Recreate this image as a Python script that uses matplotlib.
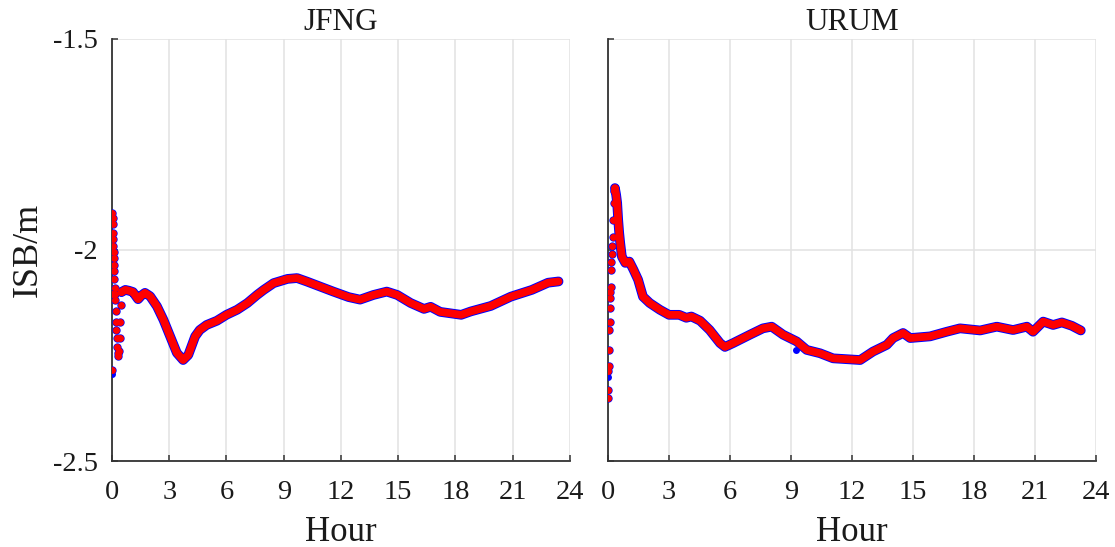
"""
ISB time series for JFNG and URUM (two panels, shared y range)
"""

import matplotlib
matplotlib.use('Agg')
import matplotlib.pyplot as plt

# --- data --------------------------------------------------------------

# JFNG: convergence dots in the first half hour
jfng_start_h = [0.00, 0.00, 0.02, 0.03, 0.05, 0.06, 0.07, 0.08, 0.09, 0.10,
                0.11, 0.12, 0.13, 0.14, 0.15, 0.17, 0.19, 0.21, 0.23, 0.25,
                0.28, 0.31, 0.34, 0.37, 0.40, 0.43, 0.46, 0.50]
jfng_start_v = [-2.285, -2.105, -1.912, -1.925, -1.940, -1.960, -1.975, -1.990,
                -2.005, -2.020, -2.035, -2.050, -2.070, -2.090, -2.105, -2.120,
                -2.145, -2.170, -2.190, -2.210, -2.230, -2.245, -2.252, -2.240,
                -2.210, -2.170, -2.130, -2.100]

# JFNG: converged part
jfng_hour = [0.50, 0.70, 0.90, 1.10, 1.37, 1.55, 1.73, 2.00, 2.36, 2.70,
             3.05, 3.40, 3.73, 4.00, 4.36, 4.60, 4.96, 5.50, 6.00, 6.56,
             7.10, 7.60, 7.95, 8.47, 9.20, 9.70, 10.20, 10.90, 11.60, 12.40,
             13.00, 13.70, 14.40, 14.95, 15.65, 16.35, 16.70, 17.20, 18.30, 18.80,
             19.85, 20.90, 22.00, 22.85, 23.40]
jfng_isb = [-2.100, -2.095, -2.097, -2.100, -2.117, -2.108, -2.102, -2.110, -2.134, -2.166,
            -2.205, -2.244, -2.261, -2.249, -2.205, -2.190, -2.178, -2.168, -2.154, -2.142,
            -2.126, -2.107, -2.095, -2.079, -2.069, -2.067, -2.075, -2.087, -2.099, -2.112,
            -2.118, -2.107, -2.099, -2.107, -2.126, -2.140, -2.135, -2.147, -2.154, -2.146,
            -2.133, -2.111, -2.095, -2.078, -2.075]

# JFNG: blue points that stick out from under the red ones
jfng_blue_h = [0.00, 0.01]
jfng_blue_v = [-2.293, -2.100]

# URUM: convergence dots
urum_start_h = [0.00, 0.00, 0.02, 0.03, 0.05, 0.07, 0.08, 0.10, 0.11, 0.12,
                0.13, 0.15, 0.17, 0.19, 0.21, 0.23, 0.25, 0.28, 0.31, 0.34]
urum_start_v = [-2.351, -2.332, -2.288, -2.276, -2.237, -2.190, -2.170, -2.138, -2.114, -2.100,
                -2.087, -2.047, -2.030, -2.010, -1.992, -1.970, -1.930, -1.890, -1.860, -1.854]

# URUM: converged part
urum_hour = [0.34, 0.40, 0.45, 0.50, 0.55, 0.60, 0.68, 0.85, 1.05, 1.25,
             1.48, 1.72, 2.05, 2.55, 3.00, 3.50, 3.85, 4.10, 4.53, 5.00,
             5.51, 5.75, 6.15, 6.98, 7.62, 8.05, 8.61, 9.28, 9.77, 10.43,
             11.07, 11.74, 12.40, 13.03, 13.71, 14.02, 14.51, 14.86, 15.84, 16.66,
             17.31, 18.30, 19.12, 19.92, 20.60, 20.90, 21.40, 21.89, 22.32, 22.81,
             23.25]
urum_isb = [-1.854, -1.870, -1.889, -1.929, -1.960, -1.984, -2.016, -2.031, -2.028, -2.047,
            -2.071, -2.111, -2.126, -2.142, -2.154, -2.154, -2.161, -2.158, -2.168, -2.190,
            -2.221, -2.230, -2.221, -2.201, -2.186, -2.182, -2.201, -2.217, -2.237, -2.245,
            -2.257, -2.259, -2.261, -2.241, -2.225, -2.209, -2.197, -2.209, -2.205, -2.194,
            -2.186, -2.191, -2.182, -2.190, -2.182, -2.194, -2.170, -2.178, -2.172, -2.180,
            -2.191]

urum_blue_h = [0.02, 9.25]
urum_blue_v = [-2.300, -2.237]

x_ticks = [0, 3, 6, 9, 12, 15, 18, 21, 24]
y_ticks = [-2.5, -2, -1.5]
y_labels = ['-2.5', '-2', '-1.5']

plt.rcParams['font.family'] = ['Liberation Serif', 'DejaVu Serif']

RED = '#ff0000'
BLUE = '#0000ff'
TXT = '#1a1a1a'


def draw_panel(ax, title, sh, sv, h, v, bh, bv, show_ylabels):
    # blue solution underneath, slightly wider
    ax.plot(h, v, '-', color=BLUE, lw=7.0, solid_capstyle='round',
            solid_joinstyle='round', zorder=3)
    ax.plot(sh, sv, 'o', color=BLUE, ms=6.0, mew=0, zorder=3)
    ax.plot(bh, bv, 'o', color=BLUE, ms=5.0, mew=0, zorder=3)
    # red solution on top
    ax.plot(h, v, '-', color=RED, lw=5.6, solid_capstyle='round',
            solid_joinstyle='round', zorder=4)
    ax.plot(sh, sv, 'o', color=RED, ms=5.0, mew=0, zorder=4)

    ax.set_xlim(0, 24)
    ax.set_ylim(-2.5, -1.5)
    ax.set_xticks(x_ticks)
    ax.set_yticks(y_ticks)
    if show_ylabels:
        ax.set_yticklabels(y_labels)
    else:
        ax.set_yticklabels([])

    ax.grid(True, color='#e2e2e2', lw=1.1, zorder=0)
    ax.set_axisbelow(True)
    for side in ['top', 'right']:
        ax.spines[side].set_visible(False)
    for side in ['left', 'bottom']:
        ax.spines[side].set_color('#333333')
        ax.spines[side].set_linewidth(1.3)

    ax.tick_params(axis='both', direction='in', length=4, width=1.1,
                   color='#333333', labelsize=20.5, labelcolor=TXT)
    ax.tick_params(axis='x', pad=13.5)
    ax.tick_params(axis='y', pad=10)

    ax.set_title(title, fontsize=22.5, pad=6, color=TXT)
    ax.set_xlabel('Hour', fontsize=25, labelpad=8, color=TXT)


fig = plt.figure(figsize=(11.15, 5.47), dpi=100)
ax1 = fig.add_axes([0.1004, 0.1572, 0.4108, 0.7724])
ax2 = fig.add_axes([0.5453, 0.1572, 0.4377, 0.7724])

draw_panel(ax1, 'JFNG', jfng_start_h, jfng_start_v, jfng_hour, jfng_isb,
           jfng_blue_h, jfng_blue_v, True)
draw_panel(ax2, 'URUM', urum_start_h, urum_start_v, urum_hour, urum_isb,
           urum_blue_h, urum_blue_v, False)

ax1.set_ylabel('ISB/m', fontsize=26, labelpad=6, color=TXT)

fig.savefig('out.png', dpi=100)
plt.close(fig)
